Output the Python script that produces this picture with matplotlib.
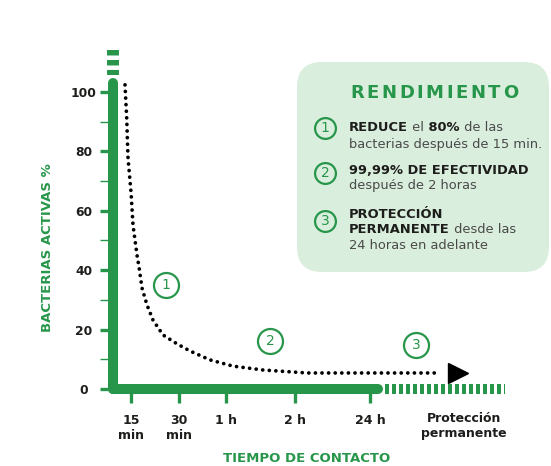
import matplotlib
matplotlib.use('Agg')
import matplotlib.pyplot as plt
from matplotlib.patches import FancyBboxPatch

W, H = 551, 466
GREEN = '#27964a'
DARK = '#1d1d1b'
GRAY = '#4a4a4a'
BOX = '#d9eedc'
plt.rcParams['font.family'] = ['DejaVu Sans']

# ---- data ----
y_ticks = [0, 20, 40, 60, 80, 100]
y_minor = [10, 30, 50, 70, 90]
x_tick_pos = [2.3, 7.1, 11.8, 18.7, 26.2]
x_tick_labels = ['15\nmin', '30\nmin', '1 h', '2 h', '24 h']
curve_x = [1.7, 1.87, 2.0, 2.3, 2.5, 2.9, 3.1, 3.4, 3.9, 4.5, 5.5, 6.9, 8.2, 10.2, 12.5, 15.5, 19.9, 26.5, 33.2]
curve_y = [102.4, 91.2, 77.8, 66.3, 55.2, 45.1, 41.1, 34.0, 28.3, 23.2, 18.2, 15.2, 12.8, 9.8, 7.7, 6.4, 5.4, 5.4, 5.4]
arrow_x, arrow_y = 35.0, 5.4
phase_x = [5.8, 16.2, 30.8]
phase_y = [35.0, 16.2, 14.8]
phase_labels = ['1', '2', '3']

fig = plt.figure(figsize=(W / 100, H / 100), dpi=100)
ax = fig.add_axes([108 / W, (H - 389) / H, (510 - 108) / W, (389 - 40) / H])
ax.set_xlim(0, 40.2)
ax.set_ylim(0, 117.5)
for s in ax.spines.values():
    s.set_visible(False)
ax.patch.set_visible(False)

ax.set_yticks(y_ticks)
ax.set_yticklabels([str(v) for v in y_ticks])
ax.set_yticks(y_minor, minor=True)
ax.tick_params(axis='y', which='major', length=6, width=2.4, color=GREEN,
               labelcolor=DARK, labelsize=8.8, pad=11.5)
ax.tick_params(axis='y', which='minor', length=6, width=1.0, color=GREEN)
ax.set_xticks(x_tick_pos)
ax.set_xticklabels(x_tick_labels)
ax.tick_params(axis='x', which='major', length=10, width=2.4, color=GREEN,
               labelcolor=DARK, labelsize=9, pad=8)
for t in ax.get_xticklabels() + ax.get_yticklabels():
    t.set_fontweight('bold')
for t in ax.get_yticklabels():
    t.set_horizontalalignment('center')
for t in ax.get_xticklabels():
    t.set_multialignment('center')
    t.set_linespacing(1.2)

# axis bars
ax.plot([0.5, 0.5], [0, 103], color=GREEN, lw=7.2, solid_capstyle='round', clip_on=False, zorder=3)
ax.plot([0.5, 27.0], [0, 0], color=GREEN, lw=7.2, solid_capstyle='round', clip_on=False, zorder=3)
ax.plot([27.7, 39.7], [0, 0], color=GREEN, lw=7.2, ls=(0, (0.4, 0.3)),
        dash_capstyle='butt', clip_on=False, zorder=3)
ax.plot([0.5, 0.5], [114.1, 105.6], color=GREEN, lw=8.6, ls=(0, (0.46, 0.375)),
        dash_capstyle='butt', clip_on=False, zorder=3)

# curve
ax.plot(curve_x, curve_y, color='black', lw=2.7, ls=(0, (0.01, 1.75)),
        dash_capstyle='round', clip_on=False, zorder=4)
ax.plot([arrow_x], [arrow_y], marker='>', ms=15, color='black', clip_on=False, zorder=4)

for x, y, n in zip(phase_x, phase_y, phase_labels):
    ax.plot([x], [y], marker='o', ms=18, mfc='white', mec=GREEN, mew=1.6, clip_on=False, zorder=5)
    ax.text(x, y, n, ha='center', va='center', color=GREEN, fontsize=10, zorder=6)

# helper for pixel positions
def P(px, py):
    return (px / 100, (H - py) / 100)

T = fig.dpi_scale_trans

ax.annotate('Protección\npermanente', xy=(35.6, H - 412), xycoords=('data', 'figure pixels'),
            ha='center', va='top', fontsize=9, fontweight='bold', color=DARK,
            linespacing=1.2, multialignment='center', annotation_clip=False)
ax.text(*P(307, 459), 'TIEMPO DE CONTACTO', transform=T, ha='center', va='center',
        fontsize=9.5, fontweight='bold', color=GREEN)
ax.text(*P(48, 248), 'BACTERIAS ACTIVAS %', transform=T, ha='center', va='center',
        rotation=90, fontsize=9.5, fontweight='bold', color=GREEN)

# info box
box = FancyBboxPatch(P(297, 272), (549 - 297) / 100, (272 - 62) / 100,
                     boxstyle='round,pad=0,rounding_size=0.25', transform=T,
                     fc=BOX, ec='none', zorder=1, clip_on=False)
ax.add_artist(box)

# title with letter spacing
prev = None
for ch in 'RENDIMIENTO':
    if prev is None:
        prev = ax.text(*P(350, 97.5), ch, transform=T, va='baseline', ha='left',
                       fontsize=13, fontweight='bold', color=GREEN, zorder=6)
    else:
        prev = ax.annotate(ch, xy=(1, 0), xycoords=prev, xytext=(1.9, 0),
                           textcoords='offset points', va='bottom', ha='left',
                           fontsize=13, fontweight='bold', color=GREEN,
                           annotation_clip=False, zorder=6)


def chain(px, py, pieces, size=9.4):
    prev = None
    for s, bold in pieces:
        kw = dict(fontsize=size, fontweight='bold' if bold else 'normal',
                  color=DARK if bold else GRAY, zorder=6)
        if prev is None:
            prev = ax.text(*P(px, py), s, transform=T, va='baseline', ha='left', **kw)
        else:
            prev = ax.annotate(s, xy=(1, 0), xycoords=prev, va='bottom', ha='left',
                               annotation_clip=False, **kw)


chain(349, 131, [('REDUCE', True), (' el', False), (' 80%', True), (' de las', False)])
chain(349, 148, [('bacterias después de 15 min.', False)])
chain(349, 173.5, [('99,99% DE EFECTIVIDAD', True)])
chain(349, 188.5, [('después de 2 horas', False)])
chain(349, 218, [('PROTECCIÓN', True)])
chain(349, 233.5, [('PERMANENTE', True), (' desde las', False)])
chain(349, 248.5, [('24 horas en adelante', False)])

for (cy, n) in [(128, '1'), (173, '2'), (221, '3')]:
    ax.plot(*P(325, cy), marker='o', ms=15, mfc=BOX, mec=GREEN, mew=1.6,
            transform=T, clip_on=False, zorder=6)
    ax.text(*P(325, cy), n, transform=T, ha='center', va='center', color=GREEN,
            fontsize=10, zorder=7)

fig.savefig('out.png', dpi=100)
